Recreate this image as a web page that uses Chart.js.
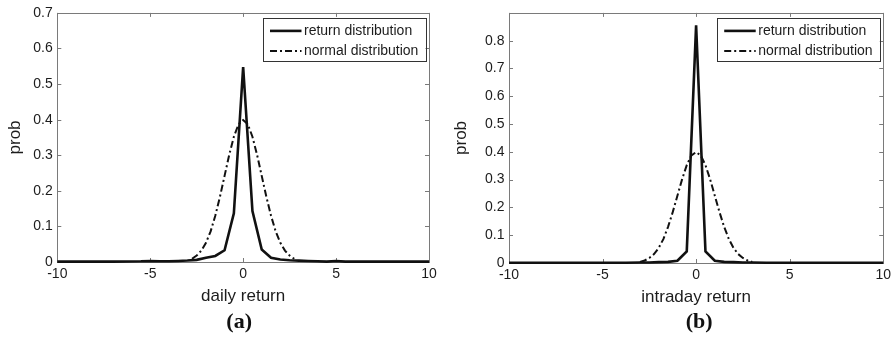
<!DOCTYPE html>
<html><head><meta charset="utf-8">
<script src="https://cdn.jsdelivr.net/npm/chart.js@4"></script>
<style>
html,body{margin:0;padding:0;background:#fff;}
#wrap{position:relative;width:895px;height:340px;}
.c{position:absolute;top:0;height:340px;}
#ca{left:0;width:445px;}
#cb{left:445px;width:450px;}
</style></head><body>
<div id="wrap">
<div class="c" id="ca"><canvas id="a"></canvas></div>
<div class="c" id="cb"><canvas id="b"></canvas></div>
</div>
<script>
// ---- data ----
const seriesLabels = ['return distribution', 'normal distribution'];
const xTicks = [-10, -5, 0, 5, 10];

// (a) daily return
const dailyX = [-10,-8.5,-7,-5.5,-5,-4.5,-4,-3.5,-3,-2.5,-2,-1.5,-1,-0.5,0,0.5,1,1.5,2,2.5,3,3.5,4,4.5,5,5.5,7,10];
const dailyY = [0.001,0.001,0.001,0.002,0.003,0.002,0.002,0.003,0.004,0.006,0.012,0.017,0.033,0.137,0.548,0.143,0.035,0.012,0.007,0.005,0.004,0.003,0.002,0.001,0.003,0.001,0.001,0.001];
const dailyNormX = [-2.75,-2.5,-2.25,-2,-1.75,-1.5,-1.25,-1,-0.75,-0.5,-0.25,0,0.25,0.5,0.75,1,1.25,1.5,1.75,2,2.25,2.5,2.75];
const dailyNormY = [0.009,0.018,0.032,0.054,0.086,0.130,0.183,0.242,0.301,0.352,0.387,0.399,0.387,0.352,0.301,0.242,0.183,0.130,0.086,0.054,0.032,0.018,0.009];
const dailyYTicksMax = 0.7;

// (b) intraday return
const intraX = [-10,-6,-3.75,-3,-2.5,-2,-1.5,-1,-0.5,0,0.5,1,1.5,2,2.5,3,3.75,6,10];
const intraY = [0.001,0.001,0.001,0.002,0.002,0.003,0.004,0.008,0.042,0.855,0.042,0.008,0.004,0.003,0.002,0.002,0.001,0.001,0.001];
const intraNormX = [-3,-2.75,-2.5,-2.25,-2,-1.75,-1.5,-1.25,-1,-0.75,-0.5,-0.25,0,0.25,0.5,0.75,1,1.25,1.5,1.75,2,2.25,2.5,2.75,3];
const intraNormY = [0.004,0.009,0.018,0.032,0.054,0.086,0.130,0.183,0.242,0.301,0.352,0.387,0.399,0.387,0.352,0.301,0.242,0.183,0.130,0.086,0.054,0.032,0.018,0.009,0.004];
const intraYMax = 0.9;
const intraLabelMax = 0.8;

const FONT = '"Liberation Sans", Arial, Helvetica, sans-serif';
const TXT = '#1c1c1c';
const LINE = '#111111';

function pts(xs, ys){ return xs.map((x,i)=>({x:x, y:ys[i]})); }

const boxPlugin = {
  id: 'matlabBox',
  beforeDatasetsDraw(chart){
    const {ctx, chartArea:a, scales} = chart;
    ctx.save();
    ctx.strokeStyle = '#7a7a7a';
    ctx.lineWidth = 1;
    ctx.strokeRect(Math.round(a.left)+0.5, Math.round(a.top)+0.5, Math.round(a.right-a.left), Math.round(a.bottom-a.top));
    const tl = 4;
    ctx.beginPath();
    scales.x.ticks.forEach(t=>{
      const px = Math.round(scales.x.getPixelForValue(t.value))+0.5;
      ctx.moveTo(px, a.bottom); ctx.lineTo(px, a.bottom-tl);
      ctx.moveTo(px, a.top); ctx.lineTo(px, a.top+tl);
    });
    scales.y.ticks.forEach(t=>{
      const py = Math.round(scales.y.getPixelForValue(t.value))+0.5;
      ctx.moveTo(a.left, py); ctx.lineTo(a.left+tl, py);
      ctx.moveTo(a.right, py); ctx.lineTo(a.right-tl, py);
    });
    ctx.stroke();
    ctx.restore();
  },
  afterDraw(chart, args, opts){
    const {ctx, chartArea:a} = chart;
    ctx.save();
    // legend
    const w = 162.5, h = 43;
    const bx = a.right - 3.5 - w, by = a.top + 5.5;
    ctx.fillStyle = '#fff';
    ctx.fillRect(bx, by, w, h);
    ctx.strokeStyle = '#333';
    ctx.lineWidth = 1;
    ctx.strokeRect(Math.round(bx)+0.5, Math.round(by)+0.5, Math.round(w), Math.round(h));
    const rows = [by+12.5, by+32.5];
    chart.data.datasets.forEach((ds,i)=>{
      ctx.beginPath();
      ctx.strokeStyle = ds.borderColor;
      ctx.lineWidth = ds.borderWidth;
      ctx.setLineDash(ds.borderDash || []);
      ctx.moveTo(bx+7, rows[i]); ctx.lineTo(bx+38.5, rows[i]);
      ctx.stroke();
      ctx.setLineDash([]);
      ctx.fillStyle = TXT;
      ctx.font = '14px ' + FONT;
      ctx.textAlign = 'left';
      ctx.textBaseline = 'middle';
      ctx.fillText(ds.label, bx+41, rows[i]+0.5);
    });
    // caption
    ctx.fillStyle = '#111';
    ctx.font = 'bold 22px "Liberation Serif", "Times New Roman", serif';
    ctx.textAlign = 'center';
    ctx.textBaseline = 'middle';
    ctx.fillText(opts.caption, (a.left+a.right)/2 + opts.capDx, 322);
    ctx.restore();
  }
};

function makeChart(id, c){
  return new Chart(document.getElementById(id), {
    type: 'scatter',
    data: {
      datasets: [
        { label: seriesLabels[0], data: pts(c.xs, c.ys), showLine: true, borderColor: LINE, backgroundColor: LINE,
          borderWidth: 2.6, pointRadius: 0, tension: 0, clip: false, order: 0 },
        { label: seriesLabels[1], data: pts(c.nx, c.ny), showLine: true, borderColor: LINE, backgroundColor: LINE,
          borderWidth: 2, borderDash: [7,3,2,3], pointRadius: 0, tension: 0, clip: false, order: 1 }
      ]
    },
    options: {
      responsive: true, maintainAspectRatio: false, animation: false, devicePixelRatio: 1,
      layout: { padding: { top: c.padTop, right: c.padRight, left: 0, bottom: 0 } },
      plugins: { legend: { display: false }, tooltip: { enabled: false },
        matlabBox: { caption: c.caption, capDx: c.capDx } },
      scales: {
        x: {
          type: 'linear', min: xTicks[0], max: xTicks[xTicks.length-1],
          afterBuildTicks: s => { s.ticks = xTicks.map(v=>({value:v})); },
          afterFit: s => { s.height = c.xHeight; },
          grid: { display: false, drawTicks: false },
          border: { display: false },
          ticks: { color: TXT, font: { family: FONT, size: 14 }, padding: 4, maxRotation: 0,
            callback: v => String(v) },
          title: { display: true, text: c.xTitle, color: TXT, font: { family: FONT, size: 17 },
            padding: { top: 0, bottom: c.xTitlePad } }
        },
        y: {
          type: 'linear', min: 0, max: c.yMax,
          afterBuildTicks: s => { const t=[]; for(let i=0;i<=Math.round(c.yMax*10);i++) t.push({value: i/10}); s.ticks = t; },
          afterFit: s => { s.width = c.yWidth; },
          grid: { display: false, drawTicks: false },
          border: { display: false },
          ticks: { color: TXT, font: { family: FONT, size: 14 }, padding: 4.5,
            callback: v => (v > c.labelMax + 1e-6 ? '' : String(Math.round(v*10)/10)) },
          title: { display: true, text: 'prob', color: TXT, font: { family: FONT, size: 17 },
            padding: { top: c.yTitlePad, bottom: 0 } }
        }
      }
    },
    plugins: [boxPlugin]
  });
}

makeChart('a', { xs: dailyX, ys: dailyY, nx: dailyNormX, ny: dailyNormY, yMax: dailyYTicksMax, labelMax: dailyYTicksMax,
  xTitle: 'daily return', caption: '(a)', capDx: -4,
  padTop: 10.7, padRight: 16, yWidth: 57.3, xHeight: 78, xTitlePad: 33.8, yTitlePad: 4.8 });
makeChart('b', { xs: intraX, ys: intraY, nx: intraNormX, ny: intraNormY, yMax: intraYMax, labelMax: intraLabelMax,
  xTitle: 'intraday return', caption: '(b)', capDx: 3,
  padTop: 12.5, padRight: 11, yWidth: 64, xHeight: 77, xTitlePad: 32.1, yTitlePad: 6.5 });
</script>
</body></html>
